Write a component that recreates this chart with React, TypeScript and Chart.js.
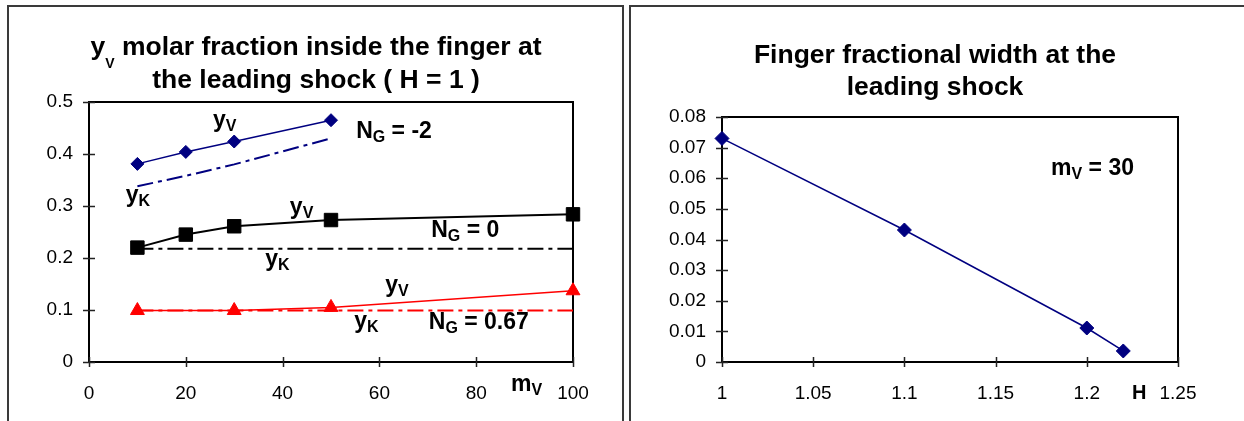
import React, { useEffect, useRef } from "react";
import { Chart, registerables } from "chart.js";

Chart.register(...registerables);

const FONT = '"Liberation Sans", Arial, Helvetica, sans-serif';
const NAVY = "#000080";
const RED = "#ff0000";
const BLACK = "#000000";

// ---- Left chart: y_V and y_K against m_V for three N_G values ----
const mvNeg2 = [10, 20, 30, 50];
const yVNeg2 = [0.381, 0.404, 0.424, 0.465];
const mvKNeg2 = [10, 20, 30, 50];
const yKNeg2 = [0.338, 0.358, 0.38, 0.43];

const mvZero = [10, 20, 30, 50, 100];
const yVZero = [0.22, 0.245, 0.261, 0.273, 0.284];
const mvKZero = [10, 100];
const yKZero = [0.218, 0.218];

const mvPos = [10, 30, 50, 100];
const yVPos = [0.099, 0.099, 0.105, 0.137];
const mvKPos = [10, 100];
const yKPos = [0.099, 0.099];

const leftXTicks = [0, 20, 40, 60, 80, 100];
const leftXLabels = ["0", "20", "40", "60", "80", "100"];
const leftYTicks = [0, 0.1, 0.2, 0.3, 0.4, 0.5];
const leftYLabels = ["0", "0.1", "0.2", "0.3", "0.4", "0.5"];

// ---- Right chart: finger fractional width against H ----
const hValues = [1, 1.1, 1.2, 1.22];
const widthValues = [0.073, 0.0431, 0.0111, 0.0036];

const rightXTicks = [1, 1.05, 1.1, 1.15, 1.2, 1.25];
const rightXLabels = ["1", "1.05", "1.1", "1.15", "1.2", "1.25"];
const rightYTicks = [0, 0.01, 0.02, 0.03, 0.04, 0.05, 0.06, 0.07, 0.08];
const rightYLabels = ["0", "0.01", "0.02", "0.03", "0.04", "0.05", "0.06", "0.07", "0.08"];

type Run = { t: string; sub?: boolean };
type Note = { x: number; y: number; runs: Run[]; size?: number };

// Titles (each line is a list of text runs, subscripts marked)
const leftTitle: Run[][] = [
  [{ t: "y" }, { t: "V", sub: true }, { t: " molar fraction inside the finger at" }],
  [{ t: "the leading shock ( H = 1 )" }],
];
const rightTitle: Run[][] = [
  [{ t: "Finger fractional width at the" }],
  [{ t: "leading shock" }],
];

// Labels placed in data coordinates (left edge, baseline)
const leftNotes: Note[] = [
  { x: 25.6, y: 0.452, runs: [{ t: "y" }, { t: "V", sub: true }] },
  { x: 55.2, y: 0.431, runs: [{ t: "N" }, { t: "G", sub: true }, { t: " = -2" }] },
  { x: 7.6, y: 0.307, runs: [{ t: "y" }, { t: "K", sub: true }] },
  { x: 41.5, y: 0.285, runs: [{ t: "y" }, { t: "V", sub: true }] },
  { x: 70.7, y: 0.24, runs: [{ t: "N" }, { t: "G", sub: true }, { t: " = 0" }] },
  { x: 36.4, y: 0.185, runs: [{ t: "y" }, { t: "K", sub: true }] },
  { x: 61.2, y: 0.135, runs: [{ t: "y" }, { t: "V", sub: true }] },
  { x: 54.8, y: 0.065, runs: [{ t: "y" }, { t: "K", sub: true }] },
  { x: 70.2, y: 0.063, runs: [{ t: "N" }, { t: "G", sub: true }, { t: " = 0.67" }] },
  { x: 87.2, y: -0.056, runs: [{ t: "m" }, { t: "V", sub: true }] },
];
const rightNotes: Note[] = [
  { x: 1.1804, y: 0.0611, runs: [{ t: "m" }, { t: "V", sub: true }, { t: " = 30" }] },
  { x: 1.2248, y: -0.0121, runs: [{ t: "H" }], size: 20 },
];

const pts = (xs: number[], ys: number[]) => xs.map((x, i) => ({ x, y: ys[i] }));

function drawRuns(
  ctx: CanvasRenderingContext2D,
  runs: Run[],
  x: number,
  y: number,
  size: number,
  subSize: number,
  subShift: number,
  align: "left" | "center"
) {
  const mainFont = `bold ${size}px ${FONT}`;
  const subFont = `bold ${subSize}px ${FONT}`;
  let total = 0;
  for (const r of runs) {
    ctx.font = r.sub ? subFont : mainFont;
    total += ctx.measureText(r.t).width;
  }
  let cx = align === "center" ? x - total / 2 : x;
  ctx.textAlign = "left";
  ctx.textBaseline = "alphabetic";
  for (const r of runs) {
    ctx.font = r.sub ? subFont : mainFont;
    ctx.fillText(r.t, cx, r.sub ? y + subShift : y);
    cx += ctx.measureText(r.t).width;
  }
}

function decorations(
  title: Run[][],
  titleX: number,
  titleBaselines: number[],
  notes: Note[]
) {
  return {
    id: "decorations",
    beforeDatasetsDraw(chart: any) {
      const { ctx, chartArea: a, scales } = chart;
      ctx.save();
      ctx.strokeStyle = "#000";
      ctx.lineWidth = 2;
      ctx.strokeRect(a.left, a.top, a.right - a.left, a.bottom - a.top);
      ctx.lineWidth = 1.5;
      ctx.strokeStyle = "#222";
      ctx.beginPath();
      for (const t of scales.x.ticks) {
        const px = Math.round(scales.x.getPixelForValue(t.value)) + 0.5;
        ctx.moveTo(px, a.bottom - 5);
        ctx.lineTo(px, a.bottom + 5);
      }
      for (const t of scales.y.ticks) {
        const py = Math.round(scales.y.getPixelForValue(t.value)) + 0.5;
        ctx.moveTo(a.left - 6, py);
        ctx.lineTo(a.left + 6, py);
      }
      ctx.stroke();
      ctx.restore();
    },
    afterDraw(chart: any) {
      const { ctx, scales } = chart;
      ctx.save();
      ctx.fillStyle = "#000";
      title.forEach((line, i) => drawRuns(ctx, line, titleX, titleBaselines[i], 26.5, 14, 13, "center"));
      for (const n of notes) {
        const px = scales.x.getPixelForValue(n.x);
        const py = scales.y.getPixelForValue(n.y);
        const size = n.size ?? 23;
        drawRuns(ctx, n.runs, px, py, size, Math.round(size * 0.7), 4, "left");
      }
      ctx.restore();
    },
  };
}

function axis(
  min: number,
  max: number,
  ticks: number[],
  labels: string[],
  horizontal: boolean,
  size: number,
  padding: number
) {
  return {
    type: "linear",
    min,
    max,
    grid: { display: false, drawTicks: false },
    border: { display: false },
    afterBuildTicks: (s: any) => {
      s.ticks = ticks.map((v) => ({ value: v }));
    },
    afterFit: (s: any) => {
      if (horizontal) s.height = size;
      else s.width = size;
    },
    ticks: {
      autoSkip: false,
      maxRotation: 0,
      minRotation: 0,
      padding,
      color: "#000",
      font: { family: FONT, size: 19 },
      callback: (_v: any, i: number) => labels[i],
    },
  };
}

function LeftChart() {
  const ref = useRef<HTMLCanvasElement>(null);
  useEffect(() => {
    const chart = new Chart(ref.current!, {
      type: "line",
      data: {
        datasets: [
          {
            data: pts(mvNeg2, yVNeg2),
            borderColor: NAVY,
            backgroundColor: NAVY,
            borderWidth: 1.5,
            pointStyle: "rectRot",
            pointRadius: 6.5,
            pointBorderWidth: 1,
          },
          {
            data: pts(mvZero, yVZero),
            borderColor: BLACK,
            backgroundColor: BLACK,
            borderWidth: 2,
            pointStyle: "rect",
            pointRadius: 9.5,
            pointBorderWidth: 1,
          },
          {
            data: pts(mvPos, yVPos),
            borderColor: RED,
            backgroundColor: RED,
            borderWidth: 1.5,
            pointStyle: "triangle",
            pointRadius: 8,
            pointBorderWidth: 1,
          },
          {
            data: pts(mvKNeg2, yKNeg2),
            borderColor: NAVY,
            borderWidth: 2,
            borderDash: [16, 5, 4, 5],
            pointRadius: 0,
          },
          {
            data: pts(mvKZero, yKZero),
            borderColor: BLACK,
            borderWidth: 2,
            borderDash: [16, 5, 4, 5],
            pointRadius: 0,
          },
          {
            data: pts(mvKPos, yKPos),
            borderColor: RED,
            borderWidth: 2,
            borderDash: [16, 5, 4, 5],
            pointRadius: 0,
          },
        ],
      },
      options: {
        responsive: false,
        animation: false,
        clip: false,
        datasets: { line: { tension: 0, fill: false, clip: false } },
        layout: { padding: { left: 0, right: 53, top: 102, bottom: 0 } },
        plugins: { legend: { display: false }, tooltip: { enabled: false }, title: { display: false } },
        scales: {
          x: axis(0, 100, leftXTicks, leftXLabels, true, 59, 20),
          y: axis(0, 0.5, leftYTicks, leftYLabels, false, 89, 16),
        },
      } as any,
      plugins: [decorations(leftTitle, 316, [55, 88], leftNotes)],
    });
    return () => chart.destroy();
  }, []);
  return (
    <canvas
      ref={ref}
      width={626}
      height={421}
      style={{ position: "absolute", left: 0, top: 0, width: 626, height: 421 }}
    />
  );
}

function RightChart() {
  const ref = useRef<HTMLCanvasElement>(null);
  useEffect(() => {
    const chart = new Chart(ref.current!, {
      type: "line",
      data: {
        datasets: [
          {
            data: pts(hValues, widthValues),
            borderColor: NAVY,
            backgroundColor: NAVY,
            borderWidth: 1.5,
            pointStyle: "rectRot",
            pointRadius: 7,
            pointBorderWidth: 1,
          },
        ],
      },
      options: {
        responsive: false,
        animation: false,
        clip: false,
        datasets: { line: { tension: 0, fill: false, clip: false } },
        layout: { padding: { left: 0, right: 66, top: 117, bottom: 0 } },
        plugins: { legend: { display: false }, tooltip: { enabled: false }, title: { display: false } },
        scales: {
          x: axis(1, 1.25, rightXTicks, rightXLabels, true, 59, 20),
          y: axis(0, 0.08, rightYTicks, rightYLabels, false, 96, 16),
        },
      } as any,
      plugins: [decorations(rightTitle, 309, [63, 95], rightNotes)],
    });
    return () => chart.destroy();
  }, []);
  return (
    <canvas
      ref={ref}
      width={618}
      height={421}
      style={{ position: "absolute", left: 626, top: 0, width: 618, height: 421 }}
    />
  );
}

export default function App() {
  const panel = (left: number, width: number): React.CSSProperties => ({
    position: "absolute",
    left,
    top: 5,
    width,
    height: 440,
    boxSizing: "border-box",
    border: "2px solid #3a3a3a",
  });
  return (
    <div
      style={{
        position: "absolute",
        left: 0,
        top: 0,
        width: 1244,
        height: 421,
        overflow: "hidden",
        background: "#fff",
      }}
    >
      <div style={panel(7, 617)} />
      <div style={panel(629, 620)} />
      <LeftChart />
      <RightChart />
    </div>
  );
}
